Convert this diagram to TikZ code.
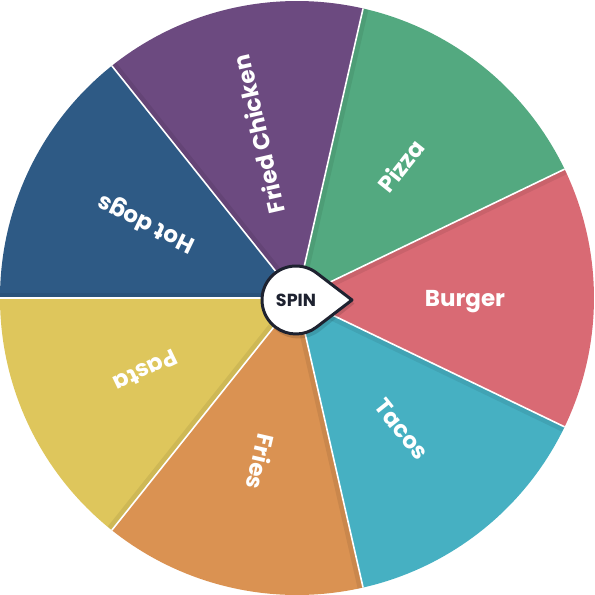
\documentclass[tikz,border=0pt]{standalone}
\usepackage{fontspec}
\setmainfont{Poppins}
\definecolor{cBurger}{HTML}{D96A74}
\definecolor{cPizza}{HTML}{53A980}
\definecolor{cChicken}{HTML}{6C4A80}
\definecolor{cHotdog}{HTML}{2E5A85}
\definecolor{cPasta}{HTML}{DEC65C}
\definecolor{cFries}{HTML}{DA9252}
\definecolor{cTacos}{HTML}{46B0C2}
\definecolor{cInk}{HTML}{1E2230}
\begin{document}
\begin{tikzpicture}[x=1pt,y=1pt,
  lbl/.style={text=white,font=\fontsize{23}{23}\selectfont\bfseries,inner sep=0pt,text height=16pt,text depth=0pt},
  sep/.style={white,line width=1.6pt},
  edgeshade/.style={black,opacity=0.07,line width=11pt},
  spinbox/.style={fill=white,draw=cInk,line width=3pt,line join=round},
  spinshadow/.style={fill=black,opacity=0.12}]
\useasboundingbox (-297,-297) rectangle (298,298);
\def\R{297}
\coordinate (o) at (0,0);
\foreach \i/\c in {0/cBurger,1/cPizza,2/cChicken,3/cHotdog,4/cPasta,5/cFries,6/cTacos}{
  \pgfmathsetmacro\a{\i*360/7-180/7}
  \pgfmathsetmacro\b{\i*360/7+180/7}
  \fill[\c] (o) -- (\a:\R) arc[start angle=\a,end angle=\b,radius=\R] -- cycle;
  \begin{scope}
    \clip (o) -- (\a:\R) arc[start angle=\a,end angle=\b,radius=\R] -- cycle;
    \draw[edgeshade] (o) -- (\b:\R+10);
  \end{scope}
}
\foreach \i/\t in {0/Burger,1/Pizza,2/Fried Chicken,3/Hot dogs,4/Pasta,5/Fries,6/Tacos}{
  \pgfmathsetmacro\m{\i*360/7}
  \node[lbl,rotate=\m] (lab\i) at (\m:168) {\t};
}
\foreach \i in {0,...,6}{
  \pgfmathsetmacro\a{\i*360/7-180/7}
  \draw[sep] (o) -- (\a:\R);
}
\coordinate (sc) at (-1,-2);
\coordinate (ss) at (1.5,-5.5);
\path[spinshadow] ([shift={(ss)}]56,0) -- ([shift={(ss)}]52.6:35) arc[start angle=52.6,end angle=307.4,radius=35] -- cycle;
\path[spinbox] ([shift={(sc)}]56,0) -- ([shift={(sc)}]52.6:34) arc[start angle=52.6,end angle=307.4,radius=34] -- cycle;
\node[text=cInk,font=\fontsize{17.5}{17.5}\selectfont\bfseries] (spin) at (sc) {SPIN};
\end{tikzpicture}
\end{document}
